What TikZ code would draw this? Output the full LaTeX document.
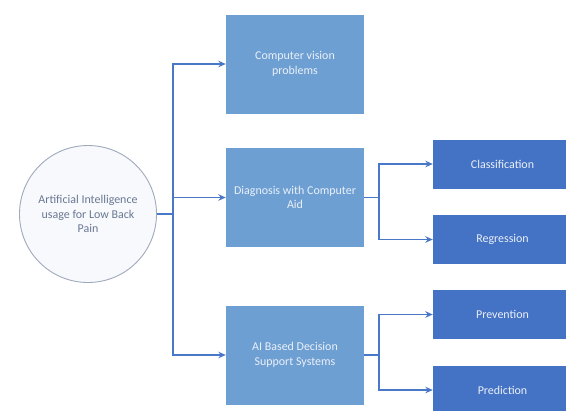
\documentclass[tikz,border=0pt]{standalone}
\usepackage{fontspec}
\setmainfont{Carlito}
\usetikzlibrary{arrows.meta}
\definecolor{lightbox}{HTML}{6E9FD2}
\definecolor{darkbox}{HTML}{4472C4}
\definecolor{linecol}{HTML}{4A78C8}
\definecolor{circtext}{HTML}{6A7894}
\definecolor{circdraw}{HTML}{A0AABC}
\definecolor{circfill}{HTML}{F7F9FC}
\definecolor{boxtext}{HTML}{EAF0F8}
\begin{document}
\begin{tikzpicture}[x=1bp,y=-1bp,
  every node/.style={font=\fontsize{12}{14.5}\selectfont, align=center},
  lbox/.style={draw=none, fill=lightbox, text=boxtext, minimum width=138bp, minimum height=99bp, inner sep=0pt},
  dbox/.style={draw=none, fill=darkbox, text=boxtext, minimum width=139bp, minimum height=49bp, inner sep=0pt},
  circ/.style={circle, draw=circdraw, line width=0.9bp, fill=circfill, text=circtext, minimum size=137bp, inner sep=0pt},
  arr/.style={draw=linecol, line width=1.7bp, -{Stealth[length=7.5bp,width=6.5bp]}},
  conn/.style={draw=linecol, line width=1.7bp}]
\useasboundingbox (0,0) rectangle (566,410);
\clip (0,0) rectangle (566,410);
\node[circ] (c) at (88,214) {Artificial Intelligence\\usage for Low Back\\Pain};
\node[lbox] (cv) at (295,64) {Computer vision\\problems};
\node[lbox] (dg) at (295,197.5) {Diagnosis with Computer\\Aid};
\node[lbox] (ai) at (295,355) {AI Based Decision\\Support Systems};
\node[dbox] (cl) at (502.5,164) {Classification};
\node[dbox] (rg) at (502.5,239.5) {Regression};
\node[dbox] (pv) at (502.5,314.5) {Prevention};
\node[dbox] (pd) at (502.5,390) {Prediction};
\coordinate (trunk) at (173,214);
\draw[conn] (c.east) -- (trunk);
\draw[arr] (trunk) |- (cv.west);
\draw[arr] (trunk) |- (dg.west);
\draw[arr] (trunk) |- (ai.west);
\coordinate (b1) at (379,197.5);
\coordinate (b2) at (379,355);
\draw[conn] (dg.east) -- (b1);
\draw[arr] (b1) |- (cl.west);
\draw[arr] (b1) |- (rg.west);
\draw[conn] (ai.east) -- (b2);
\draw[arr] (b2) |- (pv.west);
\draw[arr] (b2) |- (pd.west);
\end{tikzpicture}
\end{document}
